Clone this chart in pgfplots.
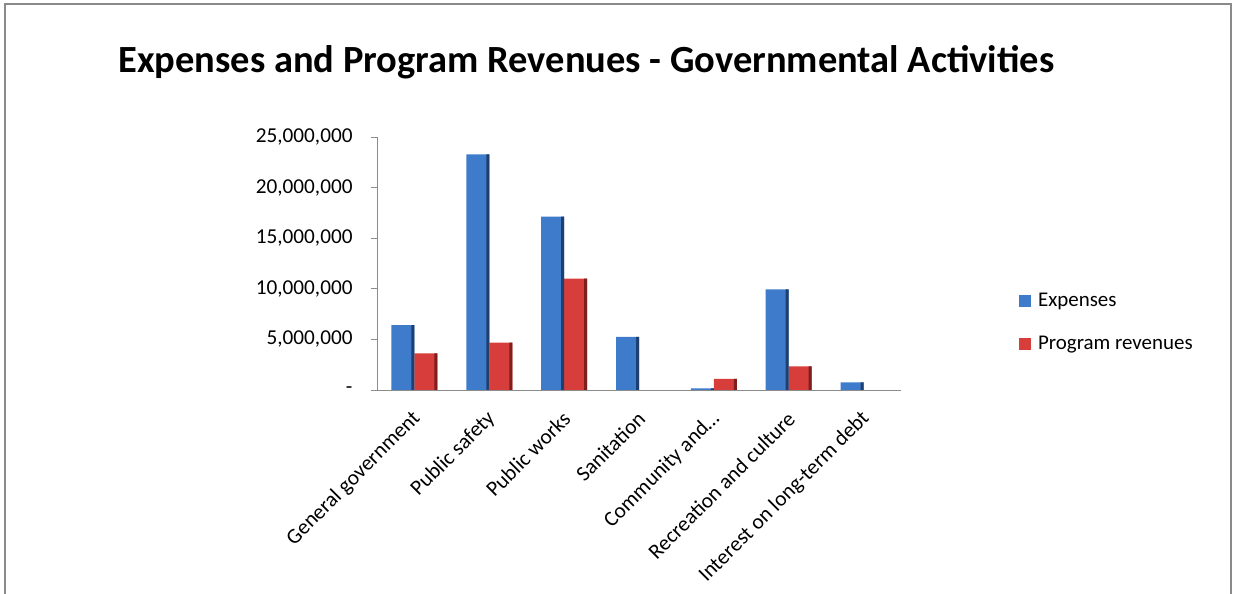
\documentclass[border=0pt]{standalone}
\usepackage{fontspec}
\setmainfont{Carlito}
\usepackage{pgfplots}
\usepackage{pgfplotstable}
\pgfplotsset{compat=1.18}

\definecolor{axisgray}{HTML}{8C8C8C}
\definecolor{framegray}{HTML}{8A8A8A}
\definecolor{blueFace}{HTML}{3E7BCB}
\definecolor{blueSide}{HTML}{1F406E}
\definecolor{redFace}{HTML}{D63D3B}
\definecolor{redSide}{HTML}{7E1F1E}

% expenses and program revenues by function
\pgfplotstableread{
x  exp       rev
0  6420000   3620000
1  23290000  4680000
2  17130000  11000000
3  5240000   0
4  170000    1090000
5  9950000   2340000
6  760000    0
}\govdata

\begin{document}
\begin{tikzpicture}
\path[use as bounding box] (0,0) rectangle (1233bp,594bp);
\draw[framegray, line width=2bp] (5bp,0) -- (5bp,590bp) -- (1231bp,590bp) -- (1231bp,0);

\node[anchor=base west, font=\bfseries\fontsize{38.6}{46}\selectfont] at (115bp,521bp)
  {Expenses and Program Revenues - Governmental Activities};

\begin{axis}[
  at={(377bp,204bp)}, anchor=south west,
  width=524bp, height=253bp, scale only axis,
  ybar, bar width=23bp,
  xmin=-0.5, xmax=6.5, ymin=0, ymax=25000000,
  axis x line=bottom, axis y line=left,
  axis line style={-, axisgray, line width=0.9bp},
  tick style={axisgray, line width=0.9bp},
  tick align=outside,
  major tick length=6bp, minor tick length=6bp,
  xtick={0,...,6},
  xtick style={draw=none},
  minor xtick={-0.5,0.5,...,6.5},
  minor tick style={axisgray, line width=0.9bp},
  xticklabels={General government, Public safety, Public works, Sanitation,
    Community and\dots, Recreation and culture, Interest on long-term debt},
  xticklabel style={xshift=5bp, yshift=-17bp, rotate=45, anchor=east,
    font=\fontsize{21.5}{25}\selectfont},
  ytick={0,5000000,10000000,15000000,20000000,25000000},
  yticklabels={{-},{5,000,000},{10,000,000},{15,000,000},{20,000,000},{25,000,000}},
  yticklabel style={font=\fontsize{21.3}{25}\selectfont, xshift=-15bp},
  scaled y ticks=false,
  legend cell align=left,
  legend style={at={(axis description cs:1.225,0.39)}, anchor=north west,
    draw=none, fill=none, inner sep=0pt, row sep=24bp,
    font=\fontsize{21}{25}\selectfont,
    /tikz/every odd column/.append style={column sep=5bp}},
  legend image code/.code={\path[#1] (0bp,-6bp) rectangle (12bp,6bp);},
]
\addplot[draw=none, fill=blueFace, bar shift=-11.5bp] table[x=x, y=exp] {\govdata};
\addlegendentry{Expenses}
\addplot[draw=none, fill=redFace, bar shift=11.5bp] table[x=x, y=rev] {\govdata};
\addlegendentry{Program revenues}
\addplot[forget plot, draw=none, fill=blueSide, bar width=3bp, bar shift=-1.5bp]
  table[x=x, y=exp] {\govdata};
\addplot[forget plot, draw=none, fill=redSide, bar width=3bp, bar shift=21.5bp]
  table[x=x, y=rev] {\govdata};
\end{axis}
\end{tikzpicture}
\end{document}
